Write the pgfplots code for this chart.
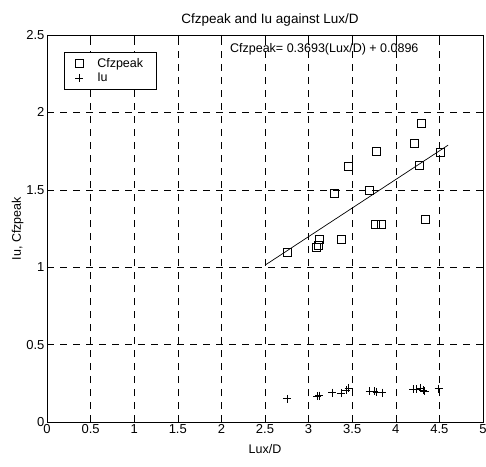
\documentclass[border=0pt]{standalone}
\usepackage{pgfplots}
\pgfplotsset{compat=1.18}
\usepackage{fontspec}
\setmainfont{Liberation Sans}
\begin{document}
\begin{tikzpicture}
\begin{axis}[
    scale only axis,
    width=436pt, height=387pt,
    xmin=0, xmax=5, ymin=0, ymax=2.5,
    xtick={0,0.5,...,5}, ytick={0,0.5,...,2.5},
    xticklabels={0,0.5,1,1.5,2,2.5,3,3.5,4,4.5,5},
    yticklabels={0,0.5,1,1.5,2,2.5},
    tick align=inside,
    major tick length=4pt,
    grid=major,
    major grid style={black, dash pattern=on 7pt off 6pt, line width=0.5pt},
    axis line style={line width=0.8pt},
    tick style={black, line width=0.5pt},
    ticklabel style={font=\fontsize{13}{14}\selectfont},
    xticklabel style={yshift=1pt},
    yticklabel style={xshift=1pt},
    /pgf/number format/assume math mode=true,
    title={Cfzpeak and Iu against Lux/D},
    title style={font=\fontsize{13.5}{14}\selectfont, yshift=-1pt, xshift=5pt},
    xlabel={Lux/D}, ylabel={Iu, Cfzpeak},
    label style={font=\fontsize{12.5}{13}\selectfont},
    xlabel style={yshift=-4pt},
    ylabel style={yshift=-4pt},
    legend style={at={(rel axis cs:0.039,0.956)}, anchor=north west,
        font=\fontsize{12.5}{14}\selectfont, draw=black, line width=0.5pt,
        inner xsep=11pt, inner ysep=4pt, row sep=0pt,
        /tikz/every odd column/.append style={column sep=12pt}},
    legend cell align=left,
]
\addplot[only marks, mark=square, mark size=4pt, mark options={line width=0.6pt}] coordinates {
    (2.75,1.095) (3.12,1.18) (3.11,1.14) (3.09,1.13) (3.29,1.48) (3.45,1.65)
    (3.375,1.18) (3.70,1.50) (3.78,1.75) (3.76,1.28) (3.83,1.28) (4.21,1.80)
    (4.29,1.93) (4.27,1.66) (4.34,1.31) (4.51,1.74)
};
\addlegendentry{Cfzpeak}
\addplot[only marks, mark=+, mark size=4pt, mark options={line width=0.6pt}] coordinates {
    (2.75,0.15) (3.10,0.165) (3.12,0.17) (3.27,0.19) (3.37,0.185) (3.43,0.205)
    (3.46,0.22) (3.70,0.20) (3.75,0.20) (3.78,0.195) (3.84,0.19)
    (4.20,0.21) (4.24,0.21) (4.28,0.22) (4.31,0.205) (4.33,0.20) (4.49,0.215)
};
\addlegendentry{Iu}
\addplot[black, line width=0.7pt, forget plot] coordinates {(2.5,1.0129) (4.6,1.7884)};
\node[font=\fontsize{12.5}{14}\selectfont] at (axis cs:3.18,2.41) {Cfzpeak= 0.3693(Lux/D) + 0.0896};
\end{axis}
\pgfresetboundingbox
\path[use as bounding box] (-47pt,-44pt) rectangle (439pt,422pt);
\end{tikzpicture}
\end{document}
